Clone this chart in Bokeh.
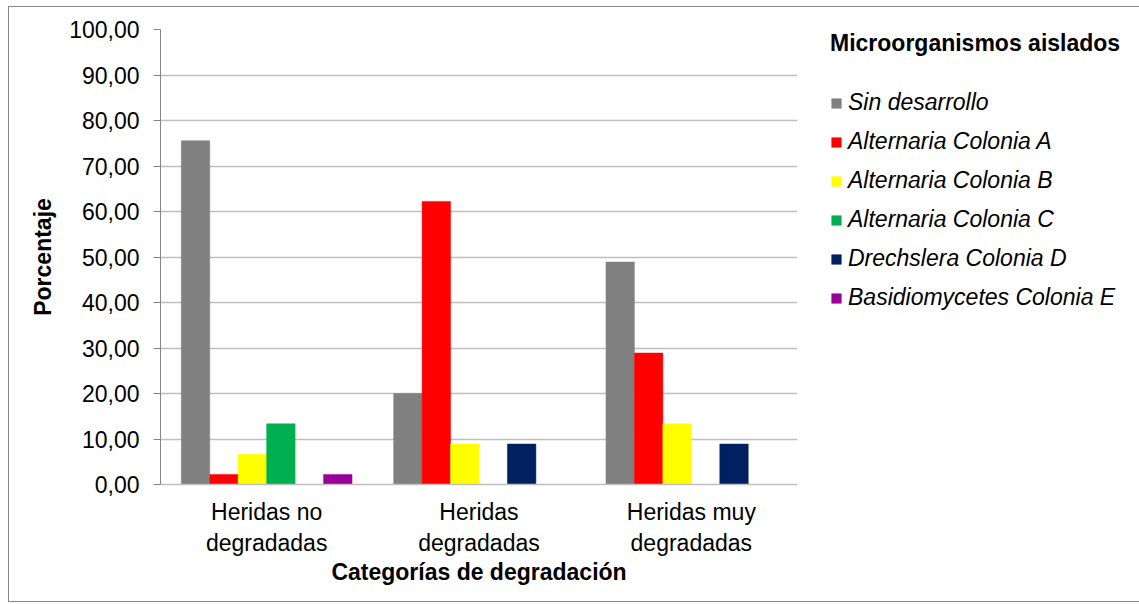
from bokeh.plotting import figure
from bokeh.models import ColumnDataSource, FactorRange, FixedTicker, CustomJSTickFormatter, Legend, LegendItem
from bokeh.transform import dodge
from bokeh.embed import file_html
from bokeh.resources import INLINE

categories = ["Heridas no\ndegradadas", "Heridas\ndegradadas", "Heridas muy\ndegradadas"]
series_names = ["Sin desarrollo", "Alternaria Colonia A", "Alternaria Colonia B",
                "Alternaria Colonia C", "Drechslera Colonia D", "Basidiomycetes Colonia E"]
sin_desarrollo = [75.56, 20.00, 48.89]
alternaria_a = [2.22, 62.22, 28.89]
alternaria_b = [6.67, 8.89, 13.33]
alternaria_c = [13.33, 0.00, 0.00]
drechslera_d = [0.00, 8.89, 8.89]
basidiomycetes_e = [2.22, 0.00, 0.00]
y_ticks = [0, 10, 20, 30, 40, 50, 60, 70, 80, 90, 100]

colors = ["#808080", "#FF0000", "#FFFF00", "#00B050", "#002060", "#990099"]
keys = ["s0", "s1", "s2", "s3", "s4", "s5"]
series_values = [sin_desarrollo, alternaria_a, alternaria_b, alternaria_c, drechslera_d, basidiomycetes_e]

data = {"cat": categories}
for k, v in zip(keys, series_values):
    data[k] = v
source = ColumnDataSource(data)

FONT = "Liberation Sans"
FS = "23px"

p = figure(x_range=FactorRange(*categories), y_range=(0, 100),
           frame_width=637, frame_height=455,
           min_border_left=151, min_border_right=330, min_border_top=22, min_border_bottom=117,
           output_backend="svg", toolbar_location=None)
p.styles = {"border": "1px solid #868686", "margin-left": "8px", "margin-top": "6px"}

bw = 0.134
items = []
for i, (k, c, name) in enumerate(zip(keys, colors, series_names)):
    off = (i - 2.5) * bw
    r = p.vbar(x=dodge("cat", off, range=p.x_range), top=k, width=bw, bottom=0,
               source=source, fill_color=c, line_color=c, line_width=0.5)
    items.append(LegendItem(label=name, renderers=[r]))

legend = Legend(items=items, location=(33, 173))
legend.title = "Microorganismos aislados"
legend.title_text_font = FONT
legend.title_text_font_size = FS
legend.title_text_font_style = "bold"
legend.title_text_color = "black"
legend.title_standoff = 32
legend.label_text_font = FONT
legend.label_text_font_size = FS
legend.label_text_font_style = "italic"
legend.label_text_color = "black"
legend.glyph_width = 12
legend.glyph_height = 12
legend.label_height = 20
legend.label_standoff = 6
legend.spacing = 12
legend.padding = 0
legend.margin = 0
legend.border_line_color = None
legend.background_fill_alpha = 0
p.add_layout(legend, "right")

p.outline_line_color = None
p.xgrid.grid_line_color = None
p.ygrid.grid_line_color = "#BFBFBF"
p.ygrid.grid_line_width = 1.5
p.yaxis.ticker = FixedTicker(ticks=y_ticks)
p.yaxis.formatter = CustomJSTickFormatter(code="return tick.toFixed(2).replace('.', ',');")
p.yaxis.minor_tick_line_color = None
p.yaxis.major_tick_out = 7
p.yaxis.major_tick_in = 0
p.yaxis.axis_line_color = "#868686"
p.yaxis.major_tick_line_color = "#868686"
p.yaxis.major_label_standoff = 14
p.yaxis.axis_label = "Porcentaje"
p.yaxis.axis_label_standoff = 10

p.xaxis.axis_line_color = "#BFBFBF"
p.xaxis.axis_line_width = 1.5
p.xaxis.major_tick_line_color = None
p.xaxis.major_label_standoff = 8
p.xaxis.axis_label = "Categorías de degradación"
p.xaxis.axis_label_standoff = 0

for ax in (p.xaxis, p.yaxis):
    ax.major_label_text_font = FONT
    ax.major_label_text_font_size = FS
    ax.major_label_text_color = "black"
    ax.axis_label_text_font = FONT
    ax.axis_label_text_font_size = FS
    ax.axis_label_text_font_style = "bold"
    ax.axis_label_text_color = "black"

open("out.html", "w").write(file_html(p, INLINE))
